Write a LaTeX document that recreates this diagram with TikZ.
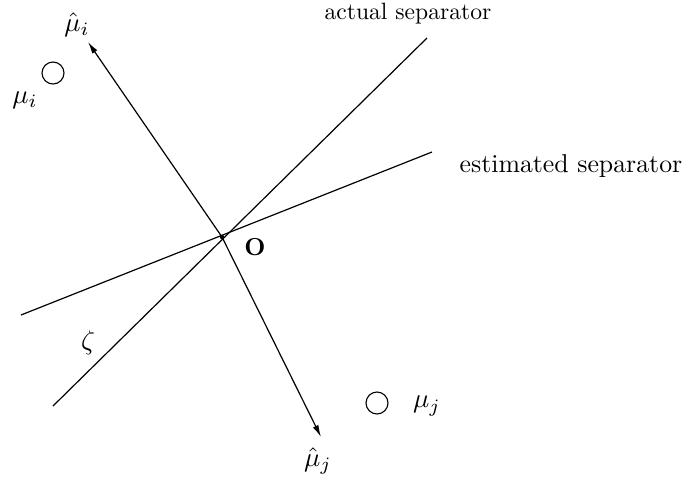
\documentclass[tikz,border=0pt]{standalone}
\usetikzlibrary{arrows.meta}
\begin{document}
\begin{tikzpicture}[x=1pt,y=-1pt,
  lbl/.style={inner sep=0pt,scale=2.7},
  ln/.style={line width=1.2pt},
  arr/.style={ln,-{Latex[length=12pt,width=6pt]}},
  ring/.style={circle,draw,line width=1.1pt,minimum size=22pt,inner sep=0pt}]
\useasboundingbox (0,0) rectangle (689,483);
\coordinate (O) at (222,237);
\coordinate (as1) at (53,406);
\coordinate (as2) at (427,38);
\coordinate (es1) at (21,315);
\coordinate (es2) at (432,152);
\coordinate (ti) at (88,42);
\coordinate (tj) at (321,437);
\draw[ln] (as1) -- (as2);
\draw[ln] (es1) -- (es2);
\draw[arr] (O) -- (ti);
\draw[arr] (O) -- (tj);
\fill (O) circle (2.2pt);
\node[ring] (ci) at (53,73) {};
\node[ring] (cj) at (377,403) {};
\node[lbl] (lhi) at (77,25) {$\hat{\mu}_i$};
\node[lbl] (li) at (25,100) {$\mu_i$};
\node[lbl] (lhj) at (318,461) {$\hat{\mu}_j$};
\node[lbl] (lj) at (427,406) {$\mu_j$};
\node[lbl] (z) at (88,343) {$\zeta$};
\node[lbl,scale=2.45/2.7,font=\bfseries] (lo) at (255,247) {O};
\node[lbl,scale=2.36/2.7] (la) at (408,14) {actual separator};
\node[lbl,scale=2.58/2.7] (le) at (571,166) {estimated separator};
\end{tikzpicture}
\end{document}
